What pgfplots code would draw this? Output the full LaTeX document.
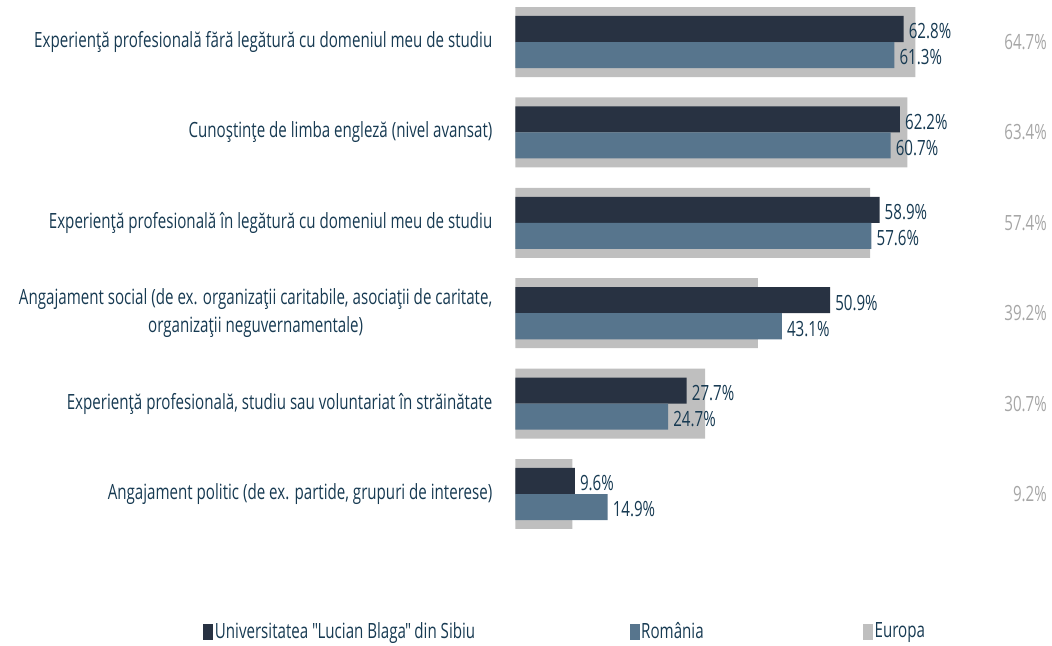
\documentclass[border=0pt]{standalone}
\usepackage{fontspec}
\setmainfont{Open Sans}[FakeStretch=0.72]
\usepackage{pgfplots}
\pgfplotsset{compat=1.18}
\usepackage{pgfplotstable}
\definecolor{cDark}{HTML}{283242}
\definecolor{cBlue}{HTML}{57758D}
\definecolor{cGrey}{HTML}{BFBFBF}
\definecolor{cText}{HTML}{173A52}
\definecolor{cGreyText}{HTML}{A6A6A6}

\pgfplotstableread{
y ulbs ro eu
0 62.8 61.3 64.7
1 62.2 60.7 63.4
2 58.9 57.6 57.4
3 50.9 43.1 39.2
4 27.7 24.7 30.7
5 9.6 14.9 9.2
}\data

\begin{document}
\fontsize{21bp}{26bp}\selectfont
\begin{tikzpicture}
\begin{axis}[
  scale only axis, width=531.5bp, height=539.2bp,
  xmin=0, xmax=86, ymin=-0.465, ymax=5.5, y dir=reverse,
  /pgf/number format/assume math mode=true,
  axis line style={draw=none}, tick style={draw=none},
  xtick=\empty, ytick={0,1,2,3,4,5},
  yticklabels={
    {Experienţă profesională fără legătură cu domeniul meu de studiu},
    {Cunoştinţe de limba engleză (nivel avansat)},
    {Experienţă profesională în legătură cu domeniul meu de studiu},
    {Angajament social (de ex. organizaţii caritabile, asociaţii de caritate,\\ organizaţii neguvernamentale)},
    {Experienţă profesională, studiu sau voluntariat în străinătate},
    {Angajament politic (de ex. partide, grupuri de interese)}},
  yticklabel style={align=center, text=cText, font=\fontsize{21bp}{28bp}\selectfont, xshift=-16bp},
  legend image code/.code={\fill[#1, draw=none] (0bp,-8bp) rectangle (10bp,8bp);},
  legend columns=3,
  legend style={draw=none, fill=none, at={(0.0931,-0.1721)}, anchor=center,
    font=\fontsize{21bp}{26bp}\selectfont, text=cText,
    nodes={inner sep=1.5bp},
    /tikz/column 2/.style={column sep=153bp},
    /tikz/column 4/.style={column sep=158bp}},
]
\addplot[xbar, bar width=0.774, bar shift=0, fill=cGrey, draw=none, forget plot]
  table[x=eu, y=y] {\data};
\addplot[xbar, bar width=0.288, bar shift=-0.144, fill=cDark, draw=none, forget plot,
  nodes near coords={\pgfmathprintnumber[fixed,fixed zerofill,precision=1]{\pgfplotspointmeta}\%},
  nodes near coords align=horizontal, point meta=x,
  every node near coord/.append style={text=cText, font=\fontsize{21bp}{24bp}\selectfont, inner sep=0bp, xshift=5bp, yshift=10.5bp}]
  table[x=ulbs, y=y] {\data};
\addplot[xbar, bar width=0.288, bar shift=0.144, fill=cBlue, draw=none, forget plot,
  nodes near coords={\pgfmathprintnumber[fixed,fixed zerofill,precision=1]{\pgfplotspointmeta}\%},
  nodes near coords align=horizontal, point meta=x,
  every node near coord/.append style={text=cText, font=\fontsize{21bp}{24bp}\selectfont, inner sep=0bp, xshift=5bp, yshift=-15.5bp}]
  table[x=ro, y=y] {\data};
\addplot[draw=none, mark=none, forget plot,
  nodes near coords={\pgfmathprintnumber[fixed,fixed zerofill,precision=1]{\pgfplotspointmeta}\%},
  point meta=explicit,
  every node near coord/.style={anchor=east, inner sep=0pt, text=cGreyText, font=\fontsize{21bp}{24bp}\selectfont}]
  table[x expr=86, y=y, meta=eu] {\data};
\addlegendimage{fill=cDark}
\addlegendentry{Universitatea \textquotedbl\kern-3bp Lucian Blaga\kern-1bp\textquotedbl\kern-3bp{} din Sibiu}
\addlegendimage{fill=cBlue}
\addlegendentry{România}
\addlegendimage{fill=cGrey}
\addlegendentry{Europa}
\end{axis}
\pgfresetboundingbox
\path (-515.5bp,-106.8bp) rectangle (536.5bp,539.2bp);
\end{tikzpicture}
\end{document}
